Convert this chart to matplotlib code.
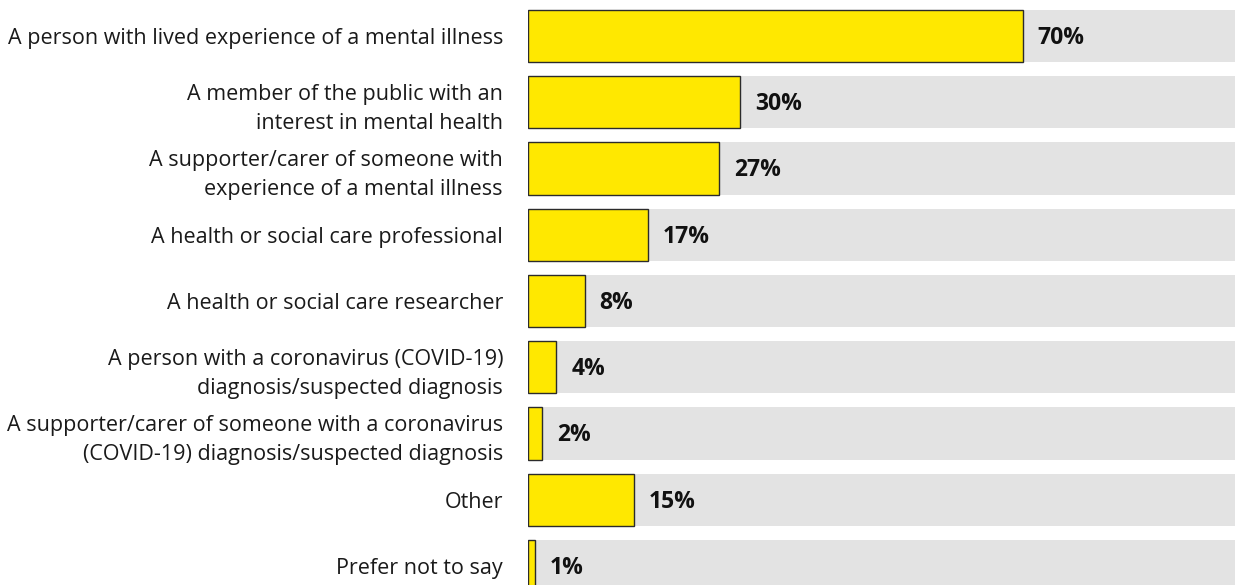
import matplotlib.pyplot as plt

categories = [
    "A person with lived experience of a mental illness",
    "A member of the public with an\ninterest in mental health",
    "A supporter/carer of someone with\nexperience of a mental illness",
    "A health or social care professional",
    "A health or social care researcher",
    "A person with a coronavirus (COVID-19)\ndiagnosis/suspected diagnosis",
    "A supporter/carer of someone with a coronavirus\n(COVID-19) diagnosis/suspected diagnosis",
    "Other",
    "Prefer not to say",
]
percentages = [70, 30, 27, 17, 8, 4, 2, 15, 1]

plt.rcParams['font.family'] = ['Open Sans', 'DejaVu Sans']

fig = plt.figure(figsize=(12.36, 5.85), dpi=100)
ax = fig.add_axes([528 / 1236, 0, 707 / 1236, 1])

rows = list(range(len(categories)))
# grey track behind each bar, full 100%
ax.barh(rows, [100] * len(rows), height=0.79, color='#e3e3e3', linewidth=0)
ax.barh(rows, percentages, height=0.79, color='#ffe800',
        edgecolor='#2b2b2b', linewidth=1.0)

for i, v in enumerate(percentages):
    ax.text(v + 2.1, i + 0.03, f"{v}%", va='center', ha='left',
            fontsize=16.5, fontweight='bold', color='#111111')

ax.set_xlim(0, 100)
ax.set_ylim(8.287, -0.543)
ax.set_yticks(rows)
ax.set_yticklabels(categories, fontsize=15.5, color='#1a1a1a', linespacing=1.5)
ax.tick_params(axis='y', length=0, pad=18)
ax.set_xticks([])
for s in ax.spines.values():
    s.set_visible(False)

fig.savefig('out.png', dpi=100)
